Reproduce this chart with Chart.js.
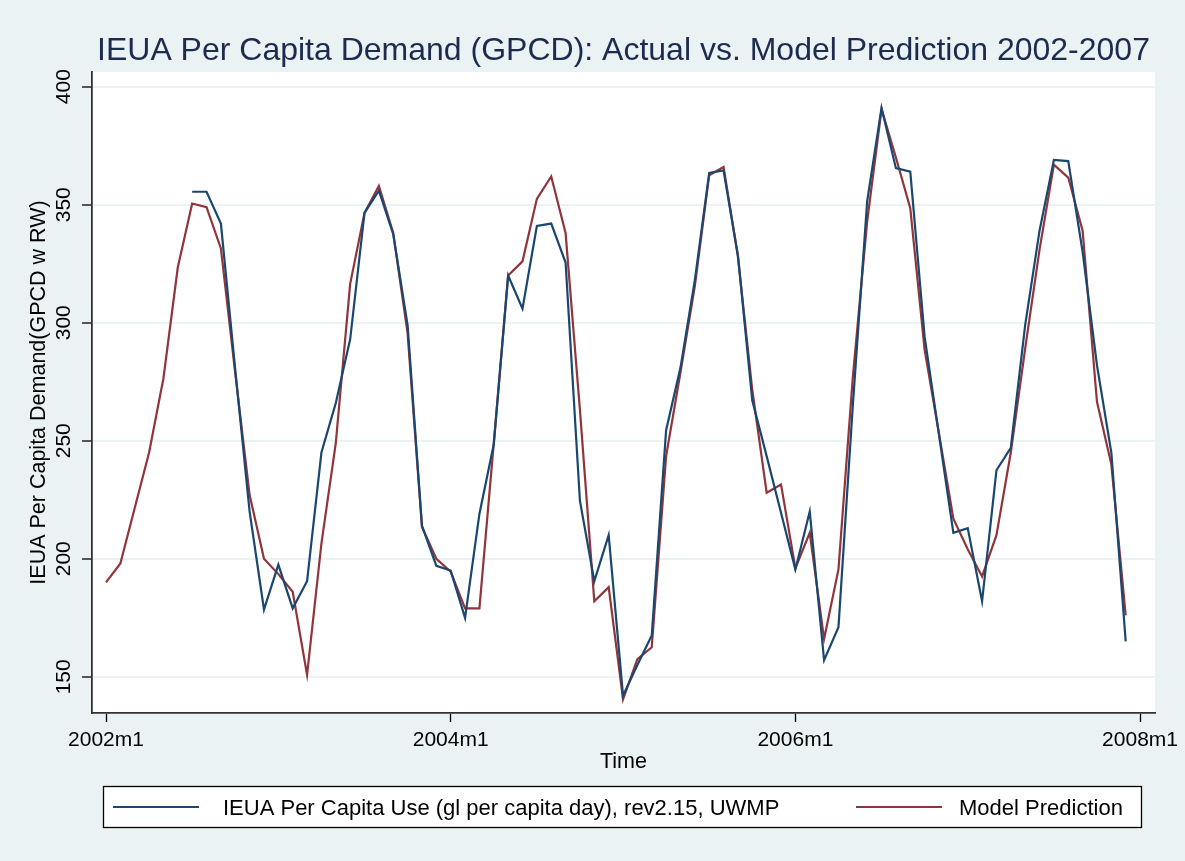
<!DOCTYPE html>
<html>
<head>
<meta charset="utf-8">
<title>IEUA Per Capita Demand</title>
<script src="https://cdn.jsdelivr.net/npm/chart.js@4.4.1/dist/chart.umd.min.js"></script>
<style>
  html, body { margin: 0; padding: 0; background: #eaf2f3; }
  #wrap { width: 1185px; height: 861px; }
</style>
</head>
<body>
<div id="wrap"><canvas id="myChart" width="1185" height="861"></canvas></div>
<script>
// monthly series, index 0 = 2002m1 ... 71 = 2007m12
const startYear = 2002
const actual = [
  null, null, null, null, null, null, 355.5, 355.5, 342, 280, 220, 178.5,
  197.5, 179, 190.5, 245, 266, 293, 346.5, 356, 337.5, 299, 214, 197,
  195, 175, 219, 248.5, 320, 306, 341, 342, 325.5, 224.5, 190.5, 210,
  142, 155, 167.5, 254.5, 281, 318, 363.5, 364.5, 328.5, 267, 243.5, 219.5,
  195.5, 220, 157, 171, 265, 351.5, 391, 365.5, 364, 294, 252.5, 211,
  213, 182, 237.5, 247, 299, 339, 369, 368.5, 330, 282, 245, 165
]
const model = [
  190, 198, 221.5, 245, 276.5, 323.5, 350.5, 349, 331.5, 278.5, 227, 200,
  193.5, 186, 150.8, 206.5, 249, 316.5, 346.5, 358, 338, 295.5, 213.5, 200,
  194.5, 179, 179, 249, 320, 326, 352.5, 362, 338, 263, 182, 188,
  140.5, 157.5, 162.5, 243.5, 279, 315.5, 362.5, 366, 328, 271.5, 228, 231.5,
  196, 211, 166, 195.5, 277, 343, 390.5, 370, 348.5, 288.5, 253, 217,
  204, 192.5, 210, 245, 289, 331, 367, 361.5, 339, 266.5, 240, 176
]
const xTickMonths = [0, 24, 48, 72]
const yTicks = [150, 200, 250, 300, 350, 400]
const seriesNames = [
  "IEUA Per Capita Use (gl per capita day), rev2.15, UWMP",
  "Model Prediction"
]

const FONT = "'Liberation Sans', Arial, Helvetica, sans-serif"
const BLUE = "#1a476f"
const RED = "#90353b"
const BG = "#eaf2f3"

function monthLabel(m) {
  return (startYear + Math.floor(m / 12)) + "m" + (m % 12 + 1)
}

const toPoints = arr => arr.map((v, i) => ({x: i, y: v}))

// plot region colours + title centred over the plot, like Stata does
const backdrop = {
  id: "backdrop",
  afterLayout(chart) {
    const a = chart.chartArea
    chart.titleBlock.left = a.left
    chart.titleBlock.right = a.right
  },
  beforeDraw(chart) {
    const {ctx, chartArea: a} = chart
    ctx.save()
    ctx.fillStyle = BG
    ctx.fillRect(0, 0, chart.width, chart.height)
    ctx.fillStyle = "#ffffff"
    ctx.fillRect(a.left, a.top, a.right - a.left, a.bottom - a.top)
    ctx.restore()
  }
}

// boxed two-column legend under the axis
const boxLegend = {
  id: "boxLegend",
  afterDraw(chart) {
    const ctx = chart.ctx
    const ds = chart.data.datasets
    const keys = [113, 856]
    ctx.save()
    ctx.fillStyle = "#ffffff"
    ctx.fillRect(103.5, 786.5, 1038, 41)
    ctx.strokeStyle = "#000000"
    ctx.lineWidth = 1.3
    ctx.strokeRect(103.5, 786.5, 1038, 41)
    ctx.font = "22px " + FONT
    ctx.textBaseline = "alphabetic"
    ds.forEach((d, i) => {
      ctx.strokeStyle = d.borderColor
      ctx.lineWidth = 2.2
      ctx.beginPath()
      ctx.moveTo(keys[i], 807)
      ctx.lineTo(keys[i] + 86, 807)
      ctx.stroke()
      ctx.fillStyle = "#000000"
      ctx.fillText(d.label, i === 0 ? 223 : 959, 814.5)
    })
    ctx.restore()
  }
}

const ctx = document.getElementById("myChart")
new Chart(ctx, {
  type: "line",
  data: {
    datasets: [
      {
        label: seriesNames[0],
        data: toPoints(actual),
        borderColor: BLUE,
        borderWidth: 2.2,
        pointRadius: 0,
        spanGaps: false
      },
      {
        label: seriesNames[1],
        data: toPoints(model),
        borderColor: RED,
        borderWidth: 2.2,
        pointRadius: 0
      }
    ]
  },
  options: {
    responsive: false,
    animation: false,
    events: [],
    layout: {
      autoPadding: false,
      padding: {left: 0, right: 30, top: 0, bottom: 0}
    },
    plugins: {
      legend: {display: false},
      tooltip: {enabled: false},
      title: {
        display: true,
        text: "IEUA Per Capita Demand (GPCD): Actual vs. Model Prediction 2002-2007",
        color: "#1c2b4f",
        font: {family: FONT, size: 32, weight: "normal", lineHeight: 1.2},
        padding: {top: 31.8, bottom: 1.8}
      }
    },
    scales: {
      x: {
        type: "linear",
        min: -0.975,
        max: 73.04,
        afterFit(scale) { scale.height = 148 },
        afterBuildTicks(scale) { scale.ticks = xTickMonths.map(v => ({value: v})) },
        ticks: {
          color: "#000000",
          padding: 5.5,
          font: {family: FONT, size: 21},
          callback: v => monthLabel(v),
          maxRotation: 0
        },
        grid: {
          drawOnChartArea: false,
          drawTicks: true,
          tickLength: 9,
          tickColor: "#000000",
          tickWidth: 1.3
        },
        border: {display: true, color: "#333333", width: 1.8},
        title: {
          display: true,
          text: "Time",
          color: "#000000",
          font: {family: FONT, size: 21.5, lineHeight: 1.2},
          padding: {top: 0, bottom: 85.6}
        }
      },
      y: {
        min: 134.66,
        max: 406.23,
        afterFit(scale) { scale.width = 92 },
        afterBuildTicks(scale) { scale.ticks = yTicks.map(v => ({value: v})) },
        ticks: {
          color: "#000000",
          padding: 0,
          minRotation: 90,
          maxRotation: 90,
          crossAlign: "center",
          font: {family: FONT, size: 21}
        },
        grid: {
          color: BG,
          lineWidth: 2,
          drawTicks: true,
          tickLength: 10,
          tickColor: "#000000",
          tickWidth: 1.3
        },
        border: {display: true, color: "#333333", width: 1.8},
        title: {
          display: true,
          text: "IEUA Per Capita Demand(GPCD w RW)",
          color: "#000000",
          font: {family: FONT, size: 21.5, lineHeight: 1.2},
          padding: {top: 26, bottom: 0}
        }
      }
    }
  },
  plugins: [backdrop, boxLegend]
});
</script>
</body>
</html>
